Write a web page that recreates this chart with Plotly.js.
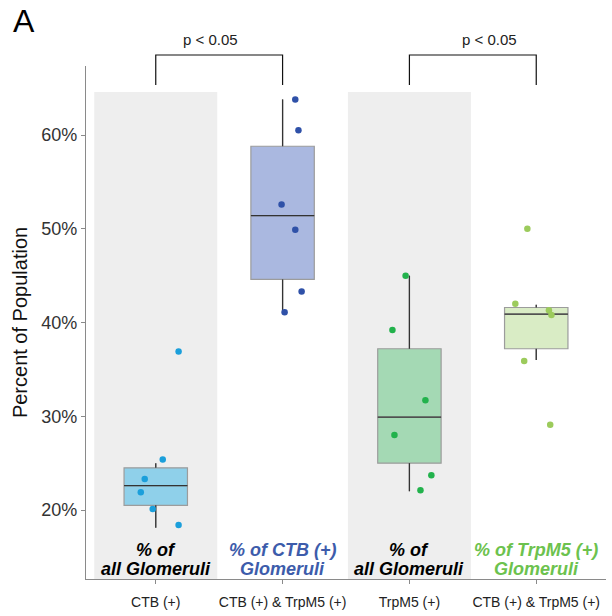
<!DOCTYPE html>
<html><head><meta charset="utf-8">
<script src="https://cdn.plot.ly/plotly-3.0.1.min.js"></script>
<style>html,body{margin:0;padding:0;background:#fff}</style>
</head><body><div id="chart" style="width:612px;height:616px"></div>
<script>
// ---- data ----
const categories = ["CTB (+)", "CTB (+) & TrpM5 (+)", "TrpM5 (+)", "CTB (+) & TrpM5 (+)"];
const q1 = [20.5, 44.6, 25.0, 37.2];
const median = [22.6, 51.4, 29.9, 40.9];
const q3 = [24.5, 58.8, 37.2, 41.6];
const lowerWhisker = [18.1, 41.1, 22.0, 36.0];
const upperWhisker = [25.0, 63.8, 45.0, 41.9];
const pointsCTB = [36.9, 25.4, 23.3, 21.9, 20.1, 18.4];
const pointsCTBinTrp = [63.8, 60.5, 52.6, 49.9, 43.3, 41.1];
const pointsTrpM5 = [45.0, 39.2, 31.7, 28.0, 23.7, 22.1];
const pointsTrpInCTB = [50.0, 42.0, 41.3, 40.8, 35.9, 29.1];
const jitterCTB = [0.18, 0.055, -0.087, -0.118, -0.024, 0.18];
const jitterCTBinTrp = [0.10, 0.125, -0.008, 0.10, 0.15, 0.016];
const jitterTrpM5 = [-0.03, -0.134, 0.126, -0.118, 0.173, 0.087];
const jitterTrpInCTB = [-0.07, -0.165, 0.10, 0.12, -0.095, 0.11];
const groupLabelLine1 = ["% of", "% of CTB (+)", "% of", "% of TrpM5 (+)"];
const groupLabelLine2 = ["all Glomeruli", "Glomeruli", "all Glomeruli", "Glomeruli"];
const comparisons = [[0, 1], [2, 3]];
const pLabels = ["p < 0.05", "p < 0.05"];
const yTickVals = [20, 30, 40, 50, 60];
const yTickText = ["20%", "30%", "40%", "50%", "60%"];

// ---- styles ----
const allPoints = [pointsCTB, pointsCTBinTrp, pointsTrpM5, pointsTrpInCTB];
const allJitter = [jitterCTB, jitterCTBinTrp, jitterTrpM5, jitterTrpInCTB];
const boxFill = ["#8fd0ea", "#aab8e0", "#a4d9b4", "#d9ecc5"];
const pointColor = ["#1b9fdb", "#2f51a8", "#22b24c", "#9ccb5c"];
const labelColor = ["#000000", "#3d5cab", "#000000", "#6cc24e"];
const xMin = -0.55, xMax = 3.55, yMin = 12.64, yMax = 67.36;
const boxW = 0.5, bandHalf = 0.485, bandTop = 64.6;
const FONT = "Liberation Sans, Arial, Helvetica, sans-serif";
const px = c => (c - xMin) / (xMax - xMin);

const traces = [];
const shapes = [];
const annotations = [];
categories.forEach((cat, i) => {
  traces.push({
    type: "box", x: [i], q1: [q1[i]], median: [median[i]], q3: [q3[i]],
    lowerfence: [lowerWhisker[i]], upperfence: [upperWhisker[i]],
    width: boxW, whiskerwidth: 0, fillcolor: boxFill[i],
    line: {color: "#9c9c9c", width: 1.2}, boxpoints: false, showlegend: false, hoverinfo: "skip"
  });
  // whiskers (dark)
  traces.push({type: "scatter", mode: "lines", x: [i, i, null, i, i],
    y: [q3[i], upperWhisker[i], null, q1[i], lowerWhisker[i]],
    line: {color: "#333333", width: 1.3}, showlegend: false, hoverinfo: "skip"});
  // median (dark)
  traces.push({type: "scatter", mode: "lines", x: [i - boxW / 2, i + boxW / 2],
    y: [median[i], median[i]], line: {color: "#333333", width: 1.3}, showlegend: false, hoverinfo: "skip"});
  // points
  traces.push({type: "scatter", mode: "markers",
    x: allJitter[i].map(j => i + j), y: allPoints[i],
    marker: {color: pointColor[i], size: 6.5}, showlegend: false, hoverinfo: "y"});
  annotations.push({xref: "x", yref: "paper", x: i, y: 0.0575, yanchor: "middle", xanchor: "center",
    text: "<b><i>" + groupLabelLine1[i] + "</i></b>", showarrow: false,
    font: {family: FONT, size: 18, color: labelColor[i]}});
  annotations.push({xref: "x", yref: "paper", x: i, y: 0.0195, yanchor: "middle", xanchor: "center",
    text: "<b><i>" + groupLabelLine2[i] + "</i></b>", showarrow: false,
    font: {family: FONT, size: 18, color: labelColor[i]}});
});
// shaded background bands for "all Glomeruli" groups
[0, 2].forEach(i => {
  shapes.push({type: "rect", xref: "x", yref: "y", x0: i - bandHalf, x1: i + bandHalf,
    y0: yMin, y1: bandTop, fillcolor: "#eeeeee", line: {width: 0}, layer: "below"});
});
// significance brackets
const pTextX = [0.43, 2.63];
comparisons.forEach((pair, k) => {
  const a = px(pair[0]), b = px(pair[1]);
  shapes.push({type: "path", xref: "paper", yref: "paper",
    path: `M ${a} 0.963 L ${a} 1.0214 L ${b} 1.0214 L ${b} 0.963`,
    line: {color: "#111111", width: 1.2}});
  annotations.push({xref: "x", yref: "paper", x: pTextX[k], y: 1.0526, yanchor: "middle",
    text: pLabels[k], showarrow: false, font: {family: FONT, size: 15, color: "#222222"}});
});
annotations.push({xref: "paper", yref: "paper", x: -0.12, y: 1.087, xanchor: "center", yanchor: "middle",
  text: "A", showarrow: false, font: {family: FONT, size: 32, color: "#000000"}});

const layout = {
  width: 612, height: 616,
  margin: {l: 86, r: 6, t: 66, b: 37},
  paper_bgcolor: "#ffffff", plot_bgcolor: "#ffffff",
  showlegend: false,
  xaxis: {range: [xMin, xMax], tickvals: categories.map((c, i) => i), ticktext: categories,
    showgrid: false, zeroline: false, showline: true, linecolor: "#8a8a8a", linewidth: 1.2,
    ticks: "outside", ticklen: 4, tickcolor: "#8a8a8a", ticklabelstandoff: 6,
    tickfont: {family: FONT, size: 14, color: "#222222"}},
  yaxis: {range: [yMin, yMax], tickvals: yTickVals, ticktext: yTickText,
    showgrid: false, zeroline: false, showline: true, linecolor: "#8a8a8a", linewidth: 1.2,
    ticks: "outside", ticklen: 4, tickcolor: "#8a8a8a",
    tickfont: {family: FONT, size: 18, color: "#333333"},
    title: {text: "Percent of Population", font: {family: FONT, size: 20, color: "#111111"}, standoff: 8}},
  shapes: shapes, annotations: annotations
};
Plotly.newPlot("chart", traces, layout, {displayModeBar: false, staticPlot: true});
</script></body></html>
